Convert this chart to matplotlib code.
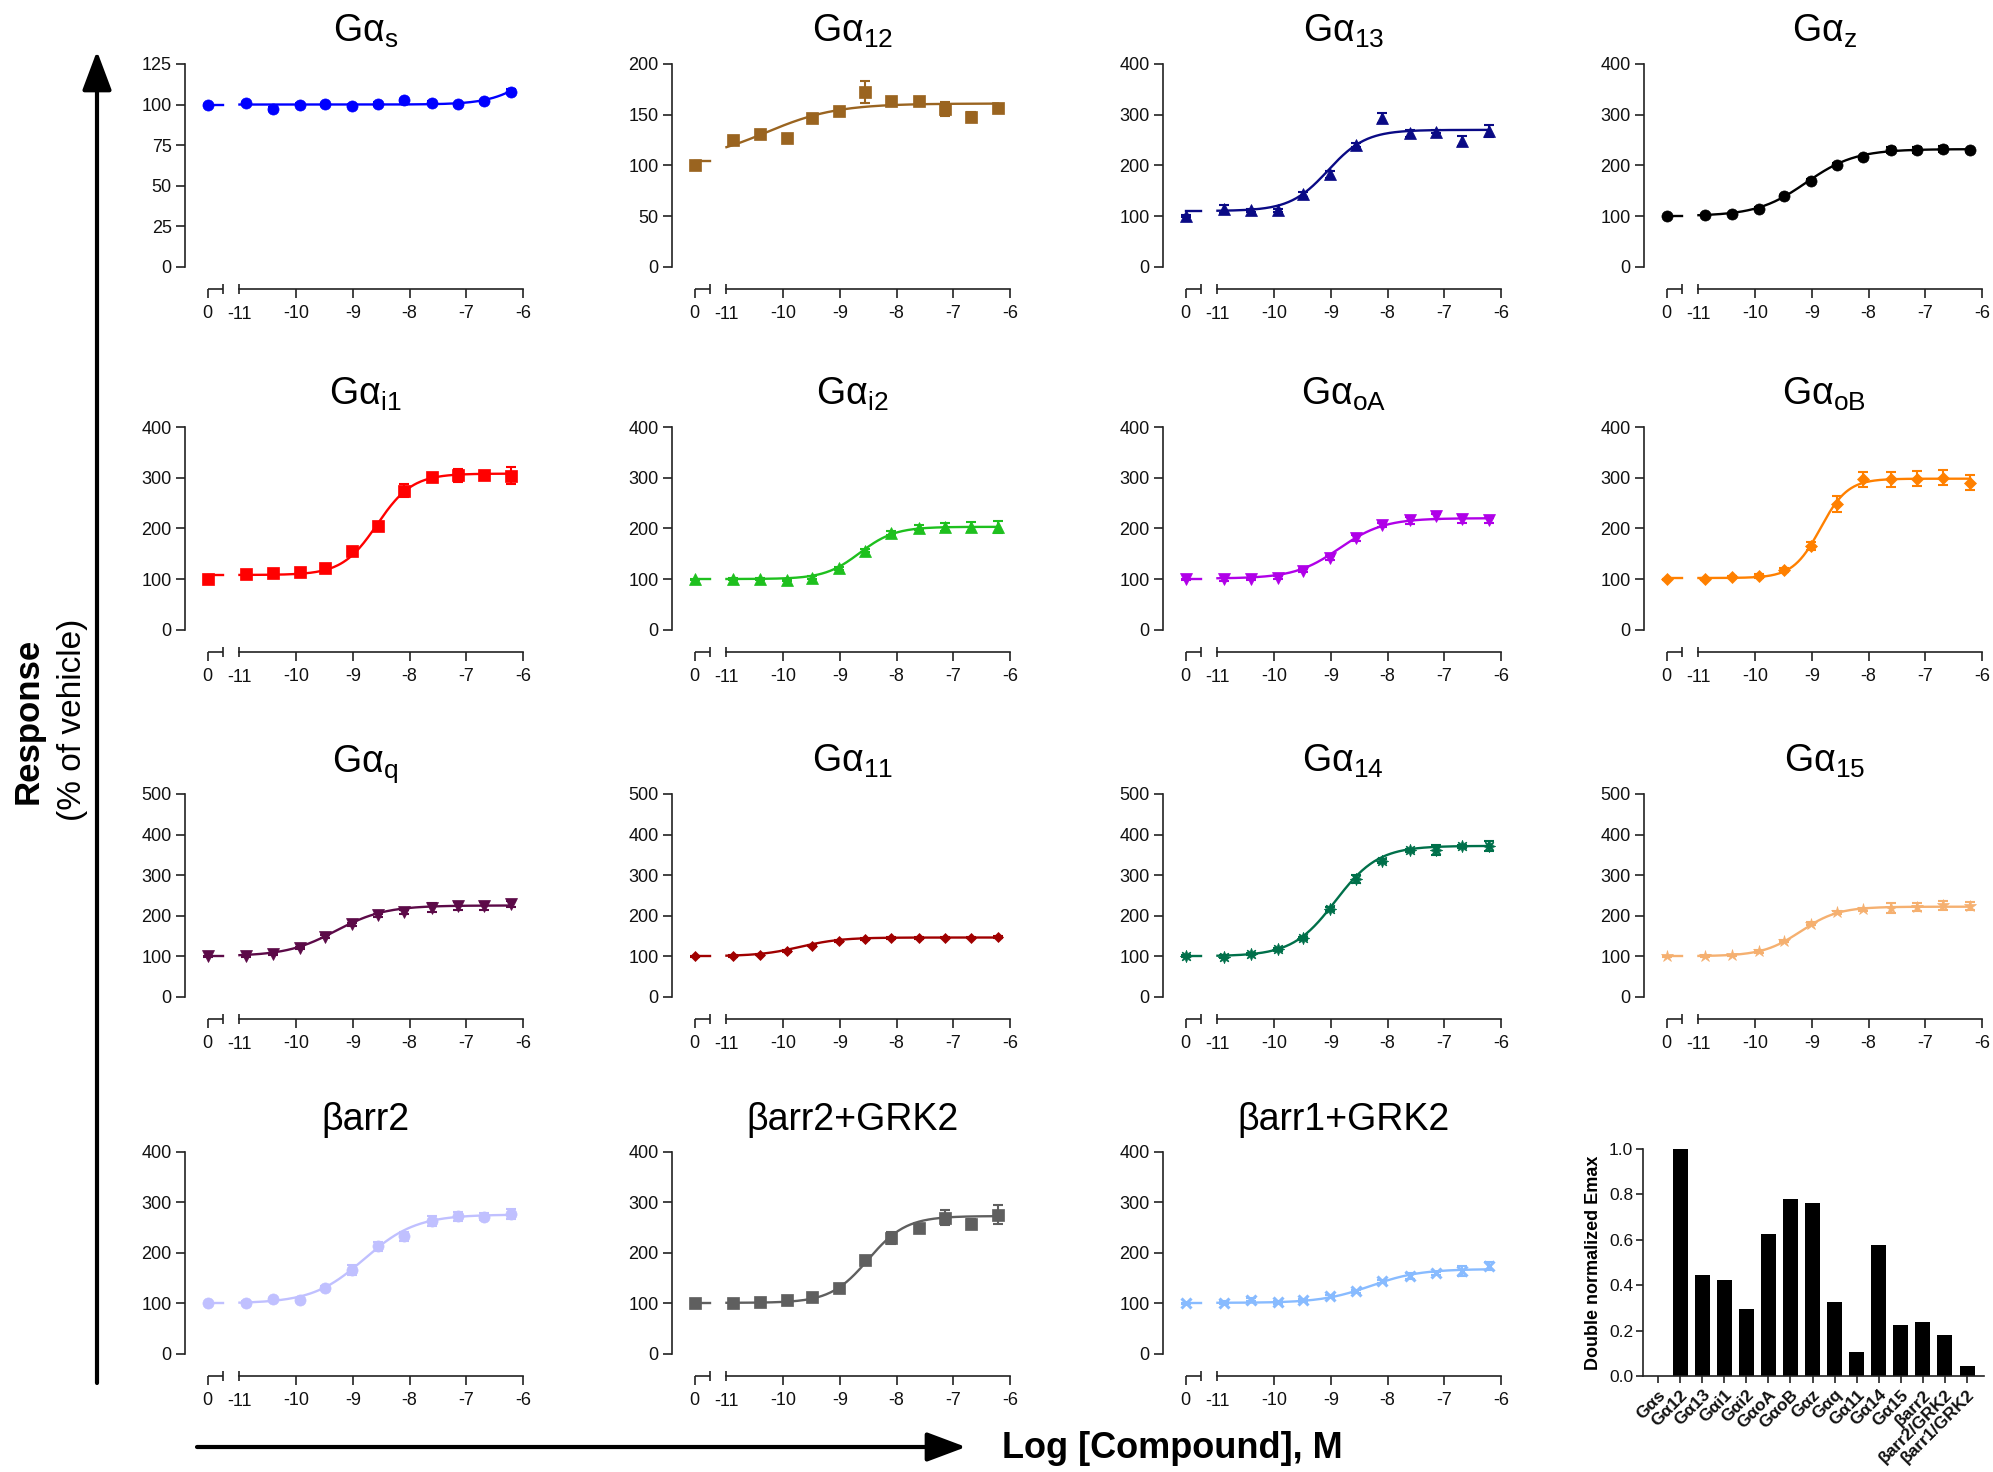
import matplotlib
matplotlib.use("Agg")
import matplotlib.pyplot as plt
import numpy as np

plt.rcParams["font.family"] = ["Liberation Sans", "DejaVu Sans"]
plt.rcParams["mathtext.default"] = "regular"

# log [compound] (M); the vehicle point is drawn on the "0" break segment
conc = [-10.89, -10.41, -9.93, -9.49, -9.02, -8.55, -8.09, -7.61, -7.14, -6.68, -6.21]

# responses (% of vehicle): vehicle first, then the 11 concentrations
y_gs = [100, 100.8, 97.1, 100, 100.2, 99.4, 100.4, 102.5, 101, 100.2, 102, 108]
e_gs = [0.6, 1.0, 1.2, 0.8, 0.9, 0.7, 1.0, 1.1, 0.9, 0.8, 1.0, 1.3]
y_g12 = [100, 125, 131.4, 126.8, 147, 154, 172.5, 163.4, 163.4, 156, 148, 157]
e_g12 = [1, 4, 3, 2, 4, 2, 11, 3, 2, 7, 5, 3]
y_g13 = [100, 113, 111, 111, 142.5, 182, 240.5, 293, 263, 266, 248, 267]
e_g13 = [2, 8, 3, 3, 4, 6, 4, 10, 7, 3, 10, 12]
y_gz = [100, 102, 104, 114, 139, 170, 201, 216, 230, 230, 231.4, 229.4]
e_gz = [1, 2, 2, 3, 3, 3, 3, 3, 6, 6, 6, 3]
y_gi1 = [100, 109.6, 112, 113.5, 122, 154.5, 205, 274.6, 301, 305, 306, 303.6]
e_gi1 = [2, 4, 3, 3, 3, 4, 8, 12, 9, 13, 8, 17]
y_gi2 = [100, 100, 100, 98, 103, 121, 156, 191, 201, 203, 203, 203]
e_gi2 = [1, 2, 2, 2, 2, 3, 3, 4, 5, 8, 10, 12]
y_goa = [100, 100, 101, 103, 116, 141, 181, 206, 216, 224, 219, 216]
e_goa = [1, 3, 2, 2, 3, 4, 5, 4, 7, 5, 8, 5]
y_gob = [100, 100, 104, 106, 118, 165, 248, 297, 297, 298, 300, 290]
e_gob = [1, 2, 2, 3, 4, 8, 15, 15, 15, 15, 15, 15]
y_gq = [100, 100, 105, 120, 148, 179, 201, 210, 220, 223, 223, 229]
e_gq = [1, 2, 2, 3, 3, 4, 4, 5, 10, 10, 10, 8]
y_g11 = [100, 100, 104, 112, 126, 138, 143, 145, 145, 146, 146, 147]
e_g11 = [1, 2, 2, 2, 2, 2, 2, 2, 2, 2, 2, 2]
y_g14 = [100, 99, 106, 117, 144, 216, 290, 335.5, 361, 362, 371, 372]
e_g14 = [2, 3, 3, 4, 4, 5, 10, 5, 4, 12, 4, 12]
y_g15 = [100, 100, 102, 112, 138, 180, 208, 216, 218, 222, 225, 224]
e_g15 = [1, 2, 2, 3, 3, 4, 4, 4, 12, 10, 12, 10]
y_b2 = [100, 101, 108, 107, 130, 166.6, 213.5, 233, 263, 273, 272, 277.7]
e_b2 = [1, 3, 3, 4, 4, 10, 9, 9, 10, 9, 7, 10]
y_b2k = [100, 100, 102, 106, 112, 130, 185, 230, 250, 270, 258, 276]
e_b2k = [2, 3, 3, 4, 4, 5, 8, 12, 6, 15, 10, 18]
y_b1k = [100, 101, 107.6, 102.5, 105.8, 114.4, 124.3, 143.5, 154, 160, 163.3, 174]
e_b1k = [1, 3, 3, 3, 3, 3, 3, 3, 6, 3, 10, 8]

# four-parameter fits: bottom, top, logEC50, hill slope
fit_gs = (100, 135, -5.8, 1.2)
fit_g12 = (104, 161, -10.3, 0.7)
fit_g13 = (110, 270, -9.05, 1.3)
fit_gz = (100, 232, -9.1, 1.0)
fit_gi1 = (108, 308, -8.57, 1.4)
fit_gi2 = (100, 203, -8.65, 1.4)
fit_goa = (101, 220, -8.85, 1.1)
fit_gob = (102, 298, -8.85, 1.8)
fit_gq = (100, 225, -9.3, 1.0)
fit_g11 = (100, 146, -9.7, 1.2)
fit_g14 = (100, 372, -8.92, 1.15)
fit_g15 = (100, 222, -9.2, 1.3)
fit_b2 = (100, 276, -8.8, 0.95)
fit_b2k = (101, 273, -8.5, 1.3)
fit_b1k = (101, 168, -8.3, 1.0)

# bar chart
bar_labels = ["Gαs", "Gα12", "Gα13", "Gαi1", "Gαi2", "GαoA", "GαoB", "Gαz",
              "Gαq", "Gα11", "Gα14", "Gα15", "βarr2", "βarr2/GRK2", "βarr1/GRK2"]
emax = [0.0, 1.0, 0.445, 0.425, 0.295, 0.625, 0.78, 0.76,
        0.325, 0.107, 0.578, 0.225, 0.24, 0.182, 0.045]

panels = [
    ("Gα$_{s}$", y_gs, e_gs, fit_gs, "#0000FF", "o", 8, 125, 25),
    ("Gα$_{12}$", y_g12, e_g12, fit_g12, "#9A6420", "s", 8, 200, 50),
    ("Gα$_{13}$", y_g13, e_g13, fit_g13, "#0A0A85", "^", 9, 400, 100),
    ("Gα$_{z}$", y_gz, e_gz, fit_gz, "#000000", "o", 8, 400, 100),
    ("Gα$_{i1}$", y_gi1, e_gi1, fit_gi1, "#FF0000", "s", 8, 400, 100),
    ("Gα$_{i2}$", y_gi2, e_gi2, fit_gi2, "#1EC01E", "^", 8, 400, 100),
    ("Gα$_{oA}$", y_goa, e_goa, fit_goa, "#B000E8", "v", 8, 400, 100),
    ("Gα$_{oB}$", y_gob, e_gob, fit_gob, "#FF8000", "D", 6.5, 400, 100),
    ("Gα$_{q}$", y_gq, e_gq, fit_gq, "#5C0A48", "v", 8, 500, 100),
    ("Gα$_{11}$", y_g11, e_g11, fit_g11, "#A00000", "D", 5.5, 500, 100),
    ("Gα$_{14}$", y_g14, e_g14, fit_g14, "#00704A", (8, 1, 0), 9, 500, 100),
    ("Gα$_{15}$", y_g15, e_g15, fit_g15, "#F5B070", "*", 9, 500, 100),
    ("βarr2", y_b2, e_b2, fit_b2, "#C0C0FF", "o", 8, 400, 100),
    ("βarr2+GRK2", y_b2k, e_b2k, fit_b2k, "#5F5F5F", "s", 8, 400, 100),
    ("βarr1+GRK2", y_b1k, e_b1k, fit_b1k, "#88BBFF", "x", 7.5, 400, 100),
]

W, H = 1993, 1472
VEH = -11.56      # position of the "0" tick
VEH_END = -11.29  # end of the vehicle segment
AX_COL = "#222222"
TICK_FS = 13


def box(left, top, right, bottom):
    return [left / W, 1 - bottom / H, (right - left) / W, (bottom - top) / H]


def four_pl(x, p):
    bottom, top, ec50, hill = p
    return bottom + (top - bottom) / (1 + 10 ** ((ec50 - x) * hill))


def draw_panel(ax, title, y, err, fit, color, marker, ms, ymax, ystep):
    ymin = -0.11 * ymax
    ax.set_xlim(-11.96, -6)
    ax.set_ylim(ymin, ymax)
    for s in ["top", "right"]:
        ax.spines[s].set_visible(False)
    for s in ["left", "bottom"]:
        ax.spines[s].set_linewidth(1.2)
        ax.spines[s].set_color(AX_COL)
    ax.spines["left"].set_bounds(0, ymax)
    ax.spines["bottom"].set_bounds(-11, -6)
    ax.plot([VEH, VEH_END], [ymin, ymin], color=AX_COL, lw=1.2,
            clip_on=False, solid_capstyle="butt")

    ax.set_yticks(np.arange(0, ymax + 1, ystep))
    ax.set_xticks([VEH, -10, -9, -8, -7, -6], ["0", "-10", "-9", "-8", "-7", "-6"])
    ax.set_xticks([VEH_END, -11], ["", "-11"], minor=True)
    ax.tick_params(axis="both", which="major", direction="out", length=6.5,
                   width=1.2, color=AX_COL, labelsize=TICK_FS, labelcolor="#111111")
    ax.tick_params(axis="x", which="major", pad=5)
    ax.tick_params(axis="y", which="major", pad=3)
    ax.tick_params(axis="x", which="minor", direction="inout", length=7.5,
                   width=1.2, color=AX_COL, labelsize=TICK_FS, pad=8.5,
                   labelcolor="#111111")

    # fitted curve plus its baseline on the vehicle segment
    xs = np.linspace(-11, conc[-1], 200)
    ax.plot(xs, four_pl(xs, fit), color=color, lw=1.7, zorder=2)
    ax.plot([VEH, VEH_END], [fit[0], fit[0]], color=color, lw=1.7, zorder=2)

    xpts = [VEH] + conc
    ax.errorbar(xpts, y, yerr=err, fmt="none", ecolor=color, elinewidth=1.5,
                capsize=3.5, capthick=1.5, zorder=3, clip_on=False)
    ax.plot(xpts, y, ls="none", marker=marker, ms=ms, color=color,
            markeredgewidth=2.2 if marker == "x" else 0.5, zorder=4, clip_on=False)

    ax.text((VEH - 6) / 2, 1.1, title, transform=ax.get_xaxis_transform(),
            ha="center", va="baseline", fontsize=27)


fig = plt.figure(figsize=(W / 100, H / 100), dpi=100)

col_left = [185, 672, 1163, 1644]
row_top = [64, 427, 794, 1152]
row_bot = [289, 652, 1019, 1376]
for i, p in enumerate(panels):
    r, c = divmod(i, 4)
    ax = fig.add_axes(box(col_left[c], row_top[r], col_left[c] + 338, row_bot[r]))
    draw_panel(ax, *p)

# Emax summary bars
bx = fig.add_axes(box(1643, 1149, 1984, 1376))
bx.bar(np.arange(len(emax)), emax, width=0.68, color="black")
bx.set_xlim(-0.68, len(emax) - 0.23)
bx.set_ylim(0, 1.0)
for s in ["top", "right"]:
    bx.spines[s].set_visible(False)
for s in ["left", "bottom"]:
    bx.spines[s].set_linewidth(1.2)
    bx.spines[s].set_color(AX_COL)
bx.set_yticks(np.arange(0, 1.01, 0.2), [f"{v:.1f}" for v in np.arange(0, 1.01, 0.2)])
bx.set_xticks(np.arange(len(emax)))
bx.set_xticklabels(bar_labels, rotation=45, ha="right", rotation_mode="anchor",
                   fontweight="bold", fontsize=12.5)
bx.tick_params(axis="both", direction="out", length=5, width=1.2, color=AX_COL,
               labelcolor="#111111")
bx.tick_params(axis="y", labelsize=12.5, pad=2)
bx.tick_params(axis="x", pad=3)
bx.set_ylabel("Double normalized Emax", fontsize=13, fontweight="bold", labelpad=5)

# overall axis labels and arrows
fig.text(28 / W, 1 - 721 / H, "Response", rotation=90, ha="center", va="center",
         fontsize=25, fontweight="bold")
fig.text(72 / W, 1 - 720 / H, "(% of vehicle)", rotation=90, ha="center",
         va="center", fontsize=24)
fig.text(1002 / W, 1 - 1449 / H, "Log [Compound], M", ha="left", va="center",
         fontsize=26, fontweight="bold")

arrow = dict(arrowstyle="-|>,head_length=1.2,head_width=0.45", color="black",
             lw=3, mutation_scale=20, shrinkA=0, shrinkB=0)
fig.add_artist(matplotlib.patches.FancyArrowPatch(
    (97 / W, 1 - 1383 / H), (97 / W, 1 - 51 / H), transform=fig.transFigure, **arrow))
fig.add_artist(matplotlib.patches.FancyArrowPatch(
    (197 / W, 1 - 1447 / H), (966 / W, 1 - 1447 / H), transform=fig.transFigure, **arrow))

fig.savefig("out.png", dpi=100)
